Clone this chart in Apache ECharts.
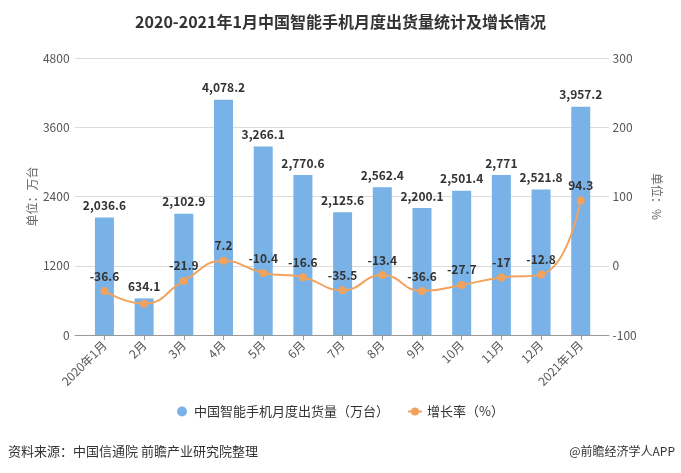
<!DOCTYPE html>
<html><head><meta charset="utf-8">
<script src="https://cdn.jsdelivr.net/npm/echarts@6/dist/echarts.min.js"></script>
<style>html,body{margin:0;padding:0;background:#fff}#c{width:681px;height:473px}</style>
</head><body><div id="c"></div>
<script>
const categories = ['2020年1月','2月','3月','4月','5月','6月','7月','8月','9月','10月','11月','12月','2021年1月'];
const shipments = [2036.6, 634.1, 2102.9, 4078.2, 3266.1, 2770.6, 2125.6, 2562.4, 2200.1, 2501.4, 2771, 2521.8, 3957.2];
const growth = [-36.6, -54.7, -21.9, 7.2, -10.4, -16.6, -35.5, -13.4, -36.6, -27.7, -17, -12.8, 94.3];
const hiddenGrowthLabels = [1];
const leftTicks = {min: 0, max: 4800, interval: 1200};
const rightTicks = {min: -100, max: 300, interval: 100};

const FONT = '"Noto Sans CJK SC", "Microsoft YaHei", sans-serif';
const chart = echarts.init(document.getElementById('c'));
const fmt = v => Number(v).toLocaleString('en-US', {maximumFractionDigits: 1});

chart.setOption({
  backgroundColor: '#fff',
  textStyle: {fontFamily: FONT},
  title: {
    text: '2020-2021年1月中国智能手机月度出货量统计及增长情况',
    left: 'center', top: 9,
    textStyle: {fontSize: 16, fontWeight: 'bold', color: '#333', fontFamily: FONT}
  },
  legend: {
    bottom: 50, left: 'center', itemGap: 18,
    itemWidth: 14, itemHeight: 10,
    textStyle: {fontSize: 13, color: '#333', fontFamily: FONT},
    data: [
      {name: '中国智能手机月度出货量（万台）', icon: 'circle'},
      {name: '增长率（%）'}
    ]
  },
  grid: [
    {left: 84.6, right: 80.4, top: 58, bottom: 138},
    {left: 75, right: 72, top: 58, bottom: 138}
  ],
  xAxis: [
    {
      type: 'category', gridIndex: 0, data: categories,
      axisLine: {show: false},
      axisTick: {show: true, alignWithLabel: true, length: 5, lineStyle: {color: '#999'}},
      axisLabel: {rotate: 45, fontSize: 12, color: '#555', margin: 8, fontFamily: FONT, interval: 0}
    },
    {
      type: 'category', gridIndex: 1, data: categories,
      axisLine: {show: true, lineStyle: {color: '#999'}},
      axisTick: {show: false}, axisLabel: {show: false}
    }
  ],
  yAxis: [
    {
      type: 'value', gridIndex: 0, position: 'left',
      min: leftTicks.min, max: leftTicks.max, interval: leftTicks.interval,
      name: '单位：万台', nameLocation: 'middle', nameGap: 46, nameRotate: 90, nameMoveOverlap: false,
      nameTextStyle: {color: '#666', fontSize: 12, fontFamily: FONT},
      axisLine: {show: false}, axisTick: {show: false}, splitLine: {show: false},
      axisLabel: {fontSize: 12, color: '#555', margin: 15, fontFamily: FONT, formatter: v => String(v)}
    },
    {
      type: 'value', gridIndex: 0, position: 'right',
      min: rightTicks.min, max: rightTicks.max, interval: rightTicks.interval,
      name: '单位：%', nameLocation: 'middle', nameGap: 50, nameRotate: -90,
      nameTextStyle: {color: '#666', fontSize: 12, fontFamily: FONT},
      axisLine: {show: false}, axisTick: {show: false}, splitLine: {show: false},
      axisLabel: {fontSize: 12, color: '#555', margin: 12, fontFamily: FONT}
    },
    {
      type: 'value', gridIndex: 1,
      min: leftTicks.min, max: leftTicks.max, interval: leftTicks.interval,
      axisLine: {show: false}, axisTick: {show: false}, axisLabel: {show: false},
      splitLine: {show: true, lineStyle: {color: '#dcdcdc'}}
    }
  ],
  series: [
    {
      name: '中国智能手机月度出货量（万台）', type: 'bar',
      xAxisIndex: 0, yAxisIndex: 0, barWidth: 19,
      data: shipments,
      itemStyle: {color: '#79b2e7'},
      label: {show: true, position: 'top', distance: 6, fontSize: 12, fontWeight: 'bold', color: '#333',
        fontFamily: FONT, formatter: p => fmt(p.value)}
    },
    {
      name: '增长率（%）', type: 'line',
      xAxisIndex: 0, yAxisIndex: 1, smooth: true,
      symbol: 'circle', symbolSize: 8,
      data: growth.map((v, i) => hiddenGrowthLabels.includes(i) ? {value: v, label: {show: false}} : v),
      itemStyle: {color: '#f2a25c'},
      lineStyle: {color: '#f2a25c', width: 2},
      label: {show: true, position: 'top', distance: 5, fontSize: 12, fontWeight: 'bold', color: '#333',
        fontFamily: FONT, formatter: p => fmt(p.value)},
      z: 5
    }
  ],
  graphic: [
    {type: 'text', left: 8, top: 445, style: {text: '资料来源：中国信通院 前瞻产业研究院整理', fontSize: 13, fill: '#333', fontFamily: FONT}},
    {type: 'text', right: 6, top: 445, style: {text: '@前瞻经济学人APP', fontSize: 12, fill: '#333', fontFamily: FONT}}
  ]
});
</script></body></html>
